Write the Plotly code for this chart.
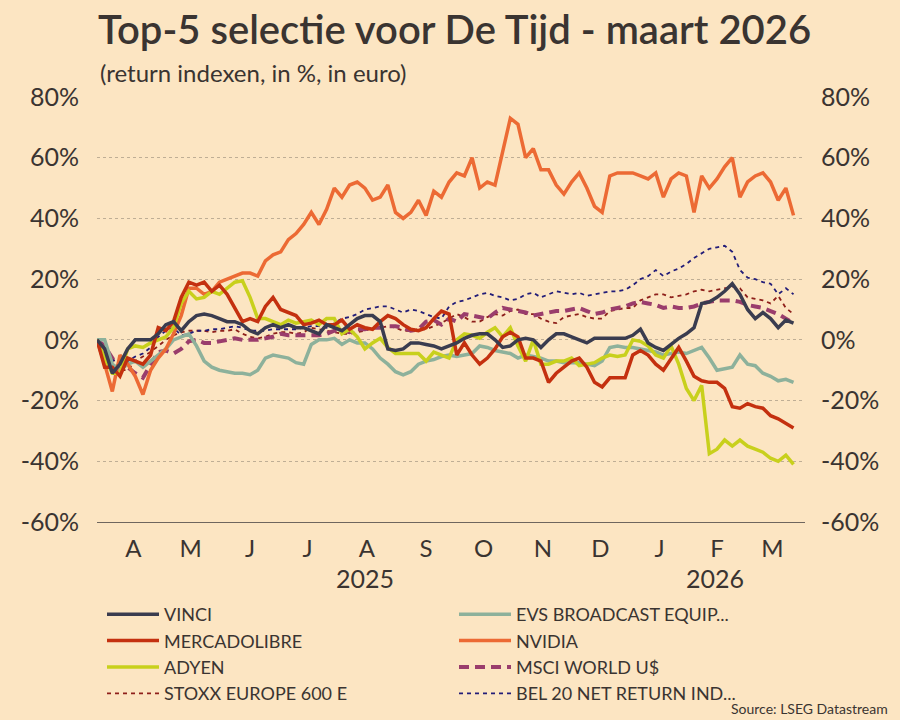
import pandas as pd
import plotly.graph_objects as go

# one point every 4 days, late March 2025 -> late March 2026
dates = pd.date_range("2025-03-27", periods=92, freq="4D")

vinci = [0, -3, -11, -8, -3, 0, 0, 0, 2, 5,
         6, 3, 6, 8, 8.5, 8, 7, 6, 6, 5,
         3, 2, 4, 5, 4, 5, 4, 4, 3, 2,
         5, 4, 3, 5, 7, 8, 8, 6, -3, -3.5,
         -3, -1, -1, -1.5, -2, -3, -2, -1, 0.5, 1.5,
         2, 2, 0, -2.5, -2, 0, 0.5, 0, -2.5, 0,
         2, 2, 1, 0, -1, 0.5, 0.5, 0.5, 0.5, 0.5,
         1.5, 3.5, -1, -2.5, -3.5, -1.5, 0.5, 2, 4, 12,
         12.5, 14, 16, 18.5, 15, 10, 7, 9, 7, 4,
         6.5, 5.5]
mercadolibre = [0, -9, -9, -12, -6, -7, -8, -5, 4, 3,
                6, 14, 19, 18, 19, 16, 18, 15, 10.5, 6,
                7, 6, 11, 14, 10, 9, 8, 5, 5.5, 6.5,
                5, 5, 6.5, 3.5, 5, 4, 3.5, 6, 8, 7,
                5, 3.5, 3, 4, 7, 9.5, 8.5, -5, -1, -5,
                -8, -6, -3, 1, 2.5, 1, -6, -6, -7, -14,
                -11, -9, -7, -6, -9, -14, -15.5, -12.5, -12.5, -12.5,
                -5, -3.5, -5, -8, -10, -6, -2.5, -7, -12, -13.5,
                -14, -14, -16, -22, -22.5, -21, -22, -22.5, -25, -26,
                -27.5, -29]
adyen = [0, -6, -11, -11, -3, -2, -2.5, -1, 0, 1,
         4, 12, 16, 13.5, 14, 16, 15, 17, 19, 19.5,
         14, 7, 7, 6, 5, 6.5, 5.5, 6, 6.5, 5,
         7, 7, 2, 3.5, 1, -3, -1, 0.5, -2.5, -4.5,
         -4.5, -4.5, -4.5, -7, -4, -5, -6, 0, 2, 1.5,
         0.5, 2.5, 4, 1, 4, -2, -7, 0, -8, -8,
         -7, -7, -6, -8.5, -8, -7.5, -6, -5, -5.5, -5,
         0, -0.5, -2, -5, -6, -2, -8, -16, -20, -15,
         -37.5, -36, -33, -35, -33, -35, -36, -37, -39, -40,
         -38, -41]
evs = [0, 0, -8, -10, -8, -7, -9, -7, -5, -3,
       0, 1, 2, -2, -7, -9, -10, -10.5, -11, -11,
       -11.5, -10, -6, -5, -5.5, -6, -7.5, -8, -1.5, 0,
       0, 0.5, -1.5, 0, -1, -1, -3, -6, -8, -10.5,
       -11.5, -10.5, -8, -7, -6.5, -5.5, -5, -5.5, -5, -4.5,
       -2, -2.5, -3.5, -4, -4.5, -6, -5, -5.5, -6, -7,
       -7, -7.5, -7.5, -7.5, -8, -8.5, -7, -2.5, -2, -2.5,
       -2.5, -3, -3.5, -4, -5, -4.5, -4, -4.5, -3.5, -2.5,
       -6, -10, -9.5, -9, -5, -8, -8.5, -11, -12, -13.5,
       -13, -14]
nvidia = [0, -8, -17, -5, -8, -12, -18, -10, -6, -3,
          2, 8, 17, 17, 15, 16, 19, 20, 21, 22,
          22, 21, 26, 28, 29, 33, 35, 38, 42, 38,
          43, 50, 47, 51, 52, 50, 46, 47, 51, 42,
          40, 42, 46, 41, 49, 47, 52, 55, 54, 60,
          50, 52, 51, 62, 73, 71, 60, 63, 56, 56,
          51, 48, 52, 55, 50, 44, 42, 54, 55, 55,
          55, 54, 53, 55, 47, 53, 55, 54, 42, 54,
          50, 53, 57, 60, 47, 52, 54, 55, 52, 46,
          50, 41]
msci_world = [0, -2, -6, -10, -9, -11, -12.5, -8, -4, -3.5,
              -4.5, -3, -0.5, 0, -1, -1, -0.5, 0, 0.5, 0,
              0, 0, 0.5, 1, 2, 1.5, 1.5, 1.5, 1.5, 1.5,
              2, 3, 3, 2.5, 3.5, 3.5, 4, 4, 4.5, 4.5,
              4, 3, 3.5, 6, 6.5, 5, 7, 6, 8.5, 8,
              7.5, 7, 9, 10.5, 10, 9.5, 9, 8, 8.5, 9,
              9.5, 9.5, 10, 10.5, 9.5, 8.5, 9, 10, 10.5, 11,
              12, 12.5, 12, 11.5, 10.5, 11, 10.5, 10.5, 11, 12,
              12.5, 13, 13, 13, 12.5, 11.5, 11, 10.5, 9.5, 8.5,
              7, 5.5]
stoxx600 = [0, -2, -6, -10, -10, -7, -5.5, -4, -2, 0,
            1.5, 2.5, 3, 3, 3, 2.5, 3, 3, 3.5, 2,
            1, 0.5, 1, 2, 2.5, 2.5, 2, 2.5, 4, 3.5,
            3, 2.5, 2, 2, 2.5, 3, 4, 4, 4.5, 4,
            3, 3, 3.5, 3.5, 4.5, 5.5, 7, 8.5, 7.5, 6,
            6, 7.5, 8.5, 8, 9.5, 10, 8.5, 8.5, 7, 6,
            5.5, 7.5, 8, 8.5, 7.5, 7, 7, 9.5, 10, 10.5,
            10.5, 13, 14, 15, 15, 14, 14.5, 15, 16, 16.5,
            16, 16.5, 17, 17.5, 17, 14, 13.5, 13, 12, 14.5,
            10.5, 8.5]
bel20 = [0, -2, -6, -10, -7, -5.5, -4.5, -2.5, 1, 3,
         4, 1.5, 2, 3, 3, 3.5, 3.5, 4, 4.5, 4,
         3, 3, 3, 3.5, 3.5, 3.5, 3.5, 4, 4.5, 4.5,
         4, 5.5, 7, 7.5, 8.5, 10, 10.5, 11, 11, 10,
         9, 10, 9.5, 8.5, 7.5, 7, 11, 12.5, 13, 14,
         15, 15.5, 14.5, 14, 13, 13.5, 15, 15.5, 14, 15,
         16, 15.5, 15, 15.5, 14.5, 15, 15.5, 16, 16, 16.5,
         18, 20, 21, 23, 21, 22.5, 23.5, 25, 27, 28.5,
         30, 30.5, 31, 29, 23, 20.5, 20, 19, 18.5, 15,
         17, 15]

month_ticks = ["2025-04-15", "2025-05-15", "2025-06-15", "2025-07-15", "2025-08-15", "2025-09-15",
               "2025-10-15", "2025-11-15", "2025-12-15", "2026-01-15", "2026-02-14", "2026-03-15"]
month_labels = ["A", "M", "J", "J", "A", "S", "O", "N", "D", "J", "F", "M"]
y_ticks = [-60, -40, -20, 0, 20, 40, 60, 80]
y_labels = ["-60%", "-40%", "-20%", "0%", "20%", "40%", "60%", "80%"]

BG = "#FCE5C2"
TXT = "#3a3431"
FONT = "Lato"

fig = go.Figure()

# (name, values, colour, width, dash, legend position)
series = [
    ("STOXX EUROPE 600 E", stoxx600, "#8E1F1A", 1.8, "4px,4px", 7),
    ("BEL 20 NET RETURN IND...", bel20, "#221C78", 1.8, "4px,4px", 8),
    ("MSCI WORLD U$", msci_world, "#9A3D6C", 4, "10px,6px", 6),
    ("EVS BROADCAST EQUIP...", evs, "#8DB19B", 3.5, "solid", 2),
    ("NVIDIA", nvidia, "#EC6A34", 3.5, "solid", 4),
    ("ADYEN", adyen, "#C8D01C", 3.5, "solid", 5),
    ("MERCADOLIBRE", mercadolibre, "#C4300F", 3.5, "solid", 3),
    ("VINCI", vinci, "#3A3C4F", 3.5, "solid", 1),
]
for name, vals, col, w, dash, rank in series:
    fig.add_trace(go.Scatter(x=dates, y=vals, name=name, mode="lines",
                             line=dict(color=col, width=w, dash=dash),
                             legendrank=rank))

# invisible copy so the right-hand axis gets drawn
fig.add_trace(go.Scatter(x=dates, y=vinci, yaxis="y2", mode="lines",
                         line=dict(width=0), opacity=0, showlegend=False,
                         hoverinfo="skip"))

fig.update_layout(
    width=900, height=720, autosize=False,
    paper_bgcolor=BG, plot_bgcolor=BG,
    margin=dict(l=97, r=95, t=97, b=198),
    font=dict(family=FONT, color=TXT),
    title=dict(text="Top-5 selectie voor De Tijd - maart 2026",
               x=98 / 900, xanchor="left", xref="container",
               y=1 - 30 / 720, yanchor="middle", yref="container",
               font=dict(size=40, family=FONT, weight=600, color=TXT)),
    xaxis=dict(range=["2025-03-27", "2026-04-01"], tickvals=month_ticks, ticktext=month_labels,
               tickfont=dict(size=24, color=TXT), showgrid=False, zeroline=False,
               showline=True, linecolor="#6f665e", linewidth=1,
               ticks="outside", ticklen=5, tickcolor="rgba(0,0,0,0)"),
    yaxis=dict(range=[-60, 80], tickvals=y_ticks, ticktext=y_labels,
               tickfont=dict(size=25, color=TXT), showgrid=True,
               gridcolor="#bfae95", griddash="dot", gridwidth=1, zeroline=False,
               ticks="outside", ticklen=12, tickcolor="rgba(0,0,0,0)"),
    yaxis2=dict(range=[-60, 80], tickvals=y_ticks, ticktext=y_labels, overlaying="y", side="right",
                tickfont=dict(size=25, color=TXT), showgrid=False, zeroline=False,
                ticks="outside", ticklen=10, tickcolor="rgba(0,0,0,0)"),
    legend=dict(orientation="h", xref="container", yref="container",
                x=102 / 900, y=1 - 596 / 720, xanchor="left", yanchor="top",
                entrywidth=285, entrywidthmode="pixels", itemwidth=52,
                font=dict(size=18, color=TXT), bgcolor="rgba(0,0,0,0)"),
    showlegend=True,
)

fig.add_annotation(text="(return indexen, in %, in euro)", xref="paper", yref="paper",
                   x=1 / 708, y=1 + (97 - 72) / 425, xanchor="left", yanchor="middle",
                   showarrow=False, font=dict(size=24, color=TXT))
fig.add_annotation(text="2025", xref="x", yref="paper", x="2025-08-14", y=(522 - 578) / 425,
                   xanchor="center", yanchor="middle", showarrow=False,
                   font=dict(size=25, color=TXT))
fig.add_annotation(text="2026", xref="x", yref="paper", x="2026-02-13", y=(522 - 578) / 425,
                   xanchor="center", yanchor="middle", showarrow=False,
                   font=dict(size=25, color=TXT))
fig.add_annotation(text="Source: LSEG Datastream", xref="paper", yref="paper",
                   x=(890 - 97) / 708, y=(522 - 708) / 425, xanchor="right", yanchor="middle",
                   showarrow=False, font=dict(size=14, color=TXT))

fig.write_html("out.html", config={"displayModeBar": False},
               post_script="document.body.style.margin='0px';")
